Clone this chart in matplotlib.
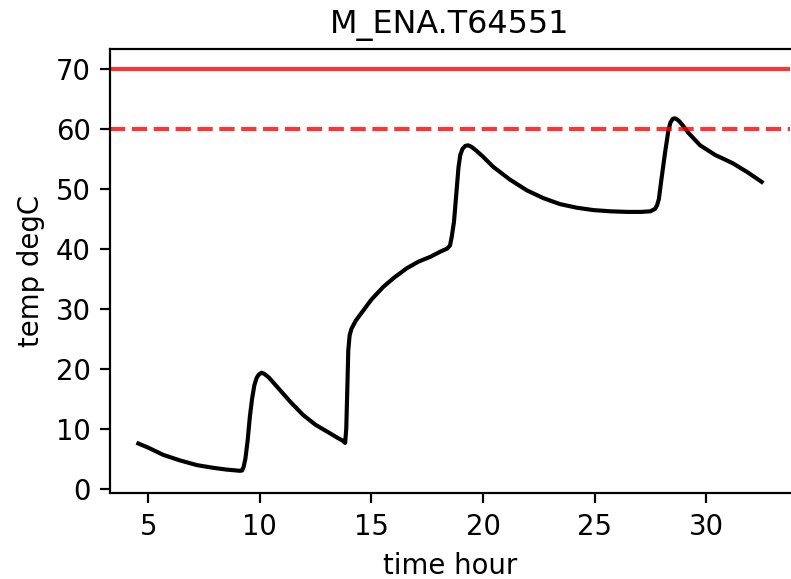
import matplotlib
matplotlib.use("Agg")
import matplotlib.pyplot as plt

# temperature trace
time_hour = [4.55, 5.0, 5.67, 6.4, 7.17, 7.9, 8.51, 8.9, 9.1, 9.2,
             9.27, 9.35, 9.45, 9.55, 9.65, 9.75, 9.85, 9.95, 10.08, 10.2,
             10.4, 10.9, 11.4, 11.95, 12.5, 13.14, 13.5, 13.7, 13.82,
             13.87, 13.92, 13.96, 14.02, 14.1, 14.3, 14.64, 15.0, 15.53, 16.0, 16.58, 17.1, 17.63,
             18.1, 18.4, 18.52,
             18.6, 18.7, 18.8, 18.9, 18.98, 19.08, 19.2, 19.34, 19.5,
             19.7, 20.0, 20.46, 21.2, 21.96, 22.7, 23.45, 24.2, 24.95, 25.7, 26.44, 27.1, 27.5, 27.71,
             27.8, 27.88, 27.96, 28.05, 28.16, 28.31, 28.4, 28.5, 28.6, 28.7,
             28.8, 29.0, 29.2, 29.73, 30.4, 31.2, 31.9, 32.49]
temp_degC = [7.5, 6.8, 5.6, 4.7, 3.9, 3.45, 3.15, 3.02, 2.95, 3.0,
             3.6, 5.0, 8.0, 12.0, 15.0, 17.2, 18.4, 19.0, 19.3, 19.1,
             18.5, 16.4, 14.3, 12.2, 10.6, 9.2, 8.4, 8.0, 7.6,
             10.0, 17.0, 23.0, 25.5, 26.6, 28.0, 29.7, 31.5, 33.6, 35.1, 36.7, 37.8, 38.6,
             39.5, 40.0, 40.5,
             42.0, 44.5, 49.0, 53.5, 55.6, 56.6, 57.1, 57.2, 56.9,
             56.3, 55.3, 53.6, 51.5, 49.7, 48.4, 47.4, 46.8, 46.4, 46.2, 46.1, 46.1, 46.2, 46.6,
             47.2, 48.2, 50.5, 53.0, 56.0, 59.7, 61.0, 61.6, 61.7, 61.5,
             61.2, 60.3, 59.3, 57.2, 55.6, 54.2, 52.6, 51.1]

limit_max = 70
limit_warn = 60

fig = plt.figure(figsize=(791 / 198, 579 / 198), dpi=198)
ax = fig.add_axes([110 / 791, 1 - 493.3 / 579, 680 / 791, 444 / 579])

ax.plot(time_hour, temp_degC, color='k')
ax.axhline(limit_max, color='red', alpha=0.8)
ax.axhline(limit_warn, color='red', alpha=0.8, linestyle='--')
# reference is cut off right at the right spine
ax.spines['right'].set_visible(False)

ax.set_xlim(3.28, 3.28 + 680 / 22.31)
ax.set_ylim(-0.8, 73.2)
ax.set_xticks([5, 10, 15, 20, 25, 30])
ax.set_yticks([0, 10, 20, 30, 40, 50, 60, 70])
ax.set_title('M_ENA.T64551', fontsize=11.6)
ax.set_xlabel('time hour')
ax.set_ylabel('temp degC')

fig.savefig('out.png', dpi=198)
